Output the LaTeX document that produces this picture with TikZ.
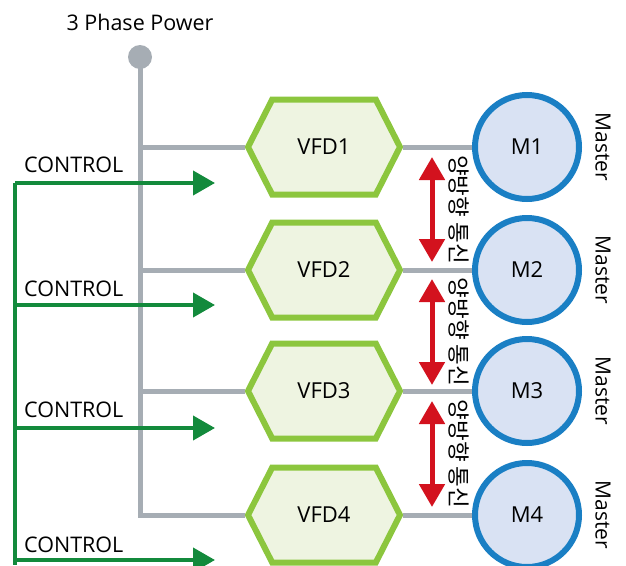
\documentclass[tikz,border=0pt]{standalone}
\usepackage{fontspec}
\setmainfont{Open Sans}
\newfontfamily\kofont{Noto Sans CJK KR}
\usetikzlibrary{shapes.symbols,arrows.meta,calc}
\definecolor{powergray}{HTML}{A6ADB4}
\definecolor{vfdedge}{HTML}{8CC63E}
\definecolor{vfdfill}{HTML}{EEF4E1}
\definecolor{motoredge}{HTML}{1A7FC4}
\definecolor{motorfill}{HTML}{D9E2F3}
\definecolor{linkred}{HTML}{D3121E}
\definecolor{ctrlgreen}{HTML}{138A3C}
\tikzset{
  vfd/.style={signal, signal to=west and east, signal pointer angle=126,
    draw=vfdedge, fill=vfdfill, line width=6pt, minimum width=152pt,
    minimum height=95pt, inner sep=0pt, font=\fontsize{22}{24}\selectfont},
  motor/.style={circle, draw=motoredge, fill=motorfill, line width=6pt,
    minimum size=104pt, inner sep=0pt, font=\fontsize{22}{24}\selectfont},
  power/.style={draw=powergray, line width=5pt},
  ctrl/.style={draw=ctrlgreen, line width=4pt,
    -{Triangle[width=24pt,length=22pt]}},
  link/.style={draw=linkred, line width=5pt,
    {Triangle[width=25pt,length=23pt]}-{Triangle[width=25pt,length=23pt]}},
  lbl/.style={font=\fontsize{21.5}{24}\selectfont, inner sep=0pt},
  kolbl/.style={font=\kofont\fontsize{22.5}{24}\selectfont, rotate=-90, inner sep=0pt},
  masterlbl/.style={font=\fontsize{21}{22}\selectfont, rotate=-90, inner sep=0pt}
}
\begin{document}
\begin{tikzpicture}[x=1pt,y=-1pt]
\useasboundingbox (0,0) rectangle (626,565);

% supply point and heading
\node[lbl] (pwrtxt) at (140,22) {3 Phase Power};
\node[circle, fill=powergray, minimum size=24pt, inner sep=0pt] (pw) at (140,57) {};

% drives and motors
\foreach \i/\y in {1/147,2/270,3/391,4/515}{
  \node[vfd] (v\i) at (324,\y) {VFD\i};
  \node[motor] (m\i) at (527,\y) {M\i};
  \node[masterlbl] (ms\i) at (603,\y) {Master};
}

% power bus
\draw[power] (pw.center) -- (pw |- v4.west) -- (v4.west);
\foreach \i in {1,2,3}{
  \draw[power] (pw |- v\i.west) -- (v\i.west);
}
\foreach \i in {1,2,3,4}{
  \draw[power] (v\i.east) -- (m\i.west);
}

% bidirectional links between motors
\foreach \a/\b/\t/\u in {1/2/157/262,2/3/279/385,3/4/401/507}{
  \coordinate (lt\a) at (432,\t);
  \coordinate (lb\a) at (432,\u);
  \draw[link] (lt\a) -- (lb\a);
  \node[kolbl] (ko\a) at (459,{(\t+\u)/2}) {양방향 통신};
}

% control lines
\coordinate (cbot) at (15,565);
\foreach \i/\y/\ly in {1/183/165,2/305/289,3/428/410,4/560/545}{
  \coordinate (cs\i) at (15,\y);
  \coordinate (ce\i) at (215,\y);
  \node[lbl, anchor=west] (ct\i) at (24,\ly) {CONTROL};
}
\draw[draw=ctrlgreen, line width=4pt] (cs1) -- (cbot);
\foreach \i in {1,2,3,4}{
  \draw[ctrl] (cs\i) -- (ce\i);
}
\end{tikzpicture}
\end{document}
